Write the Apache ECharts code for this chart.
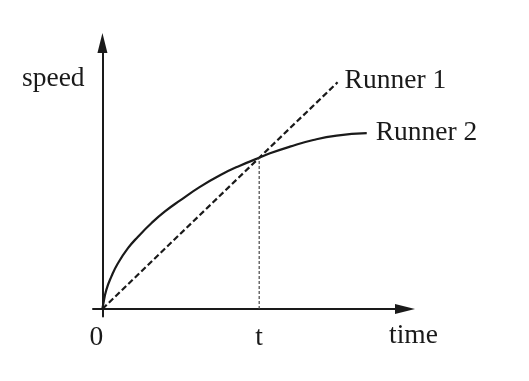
<!DOCTYPE html>
<html>
<head>
<meta charset="utf-8">
<script src="https://cdn.jsdelivr.net/npm/echarts@6/dist/echarts.min.js"></script>
<style>html,body{margin:0;padding:0;background:#fff;}#c{width:529px;height:381px;}</style>
</head>
<body>
<div id="c"></div>
<script>
// Data (arbitrary units; t = 10 on the time axis)
const runner1 = [[0, 0], [15, 15]];
const runner2 = [[0, 0], [0.05, 0.3], [0.25, 1.26], [0.57, 2.14], [0.99, 3.02], [1.63, 4.02], [2.27, 4.78], [3.12, 5.67], [3.97, 6.44], [5.01, 7.22], [6.22, 8.08], [7.5, 8.85], [8.77, 9.48], [10, 10], [10.69, 10.3], [11.96, 10.74], [13.45, 11.18], [14.94, 11.47], [16.86, 11.63]];
const tMarker = [[10, 0], [10, 10]];
const xTickValues = [0, 10];
const xTickLabels = ['0', 't'];
const seriesNames = ['Runner 1', 'Runner 2'];
const axisNames = { x: 'time', y: 'speed' };

const FONT = 'Liberation Serif';
const FS = 27.5;
const INK = '#1a1a1a';
const chart = echarts.init(document.getElementById('c'), null, { renderer: 'canvas' });
chart.setOption({
  animation: false,
  backgroundColor: '#fff',
  grid: { left: 93, right: 124, top: 43, bottom: 64.5, containLabel: false },
  xAxis: {
    type: 'value', min: -0.6, max: 19.3,
    axisLine: { onZero: true, lineStyle: { color: INK, width: 2 }, symbol: ['none', 'triangle'], symbolSize: [10, 20] },
    axisTick: { show: false },
    splitLine: { show: false },
    axisLabel: {
      customValues: xTickValues,
      formatter: v => {
        const s = xTickLabels[xTickValues.indexOf(v)] ?? '';
        return v === 0 ? '{z|' + s + '}' : s;
      },
      rich: { z: { fontFamily: FONT, fontSize: FS, color: INK, padding: [0, 12, 0, 0] } },
      fontFamily: FONT, fontSize: FS, color: INK, margin: 7
    }
  },
  yAxis: {
    type: 'value', min: -0.5, max: 17.6,
    axisLine: { onZero: true, lineStyle: { color: INK, width: 2 }, symbol: ['none', 'triangle'], symbolSize: [10, 20] },
    axisTick: { show: false },
    splitLine: { show: false },
    axisLabel: { show: false }
  },
  graphic: [
    { type: 'text', left: 22, top: 65, style: { text: axisNames.y, font: FS + 'px "Liberation Serif"', fill: INK } },
    { type: 'text', left: 389, top: 322, style: { text: axisNames.x, font: FS + 'px "Liberation Serif"', fill: INK } }
  ],
  series: [
    {
      name: seriesNames[0], type: 'line', data: runner1, showSymbol: false,
      lineStyle: { color: INK, width: 2.2, type: [6, 3] },
      endLabel: { show: true, formatter: seriesNames[0], fontFamily: FONT, fontSize: FS, color: INK, distance: 7, offset: [0, -2] }
    },
    {
      name: seriesNames[1], type: 'line', data: runner2, showSymbol: false, smooth: 0.5,
      lineStyle: { color: INK, width: 2.2 },
      endLabel: { show: true, formatter: seriesNames[1], fontFamily: FONT, fontSize: FS, color: INK, distance: 9 }
    },
    {
      name: 't', type: 'line', data: tMarker, showSymbol: false, silent: true,
      lineStyle: { color: '#444', width: 1.2, type: [3, 2] }
    }
  ]
});
</script>
</body>
</html>
